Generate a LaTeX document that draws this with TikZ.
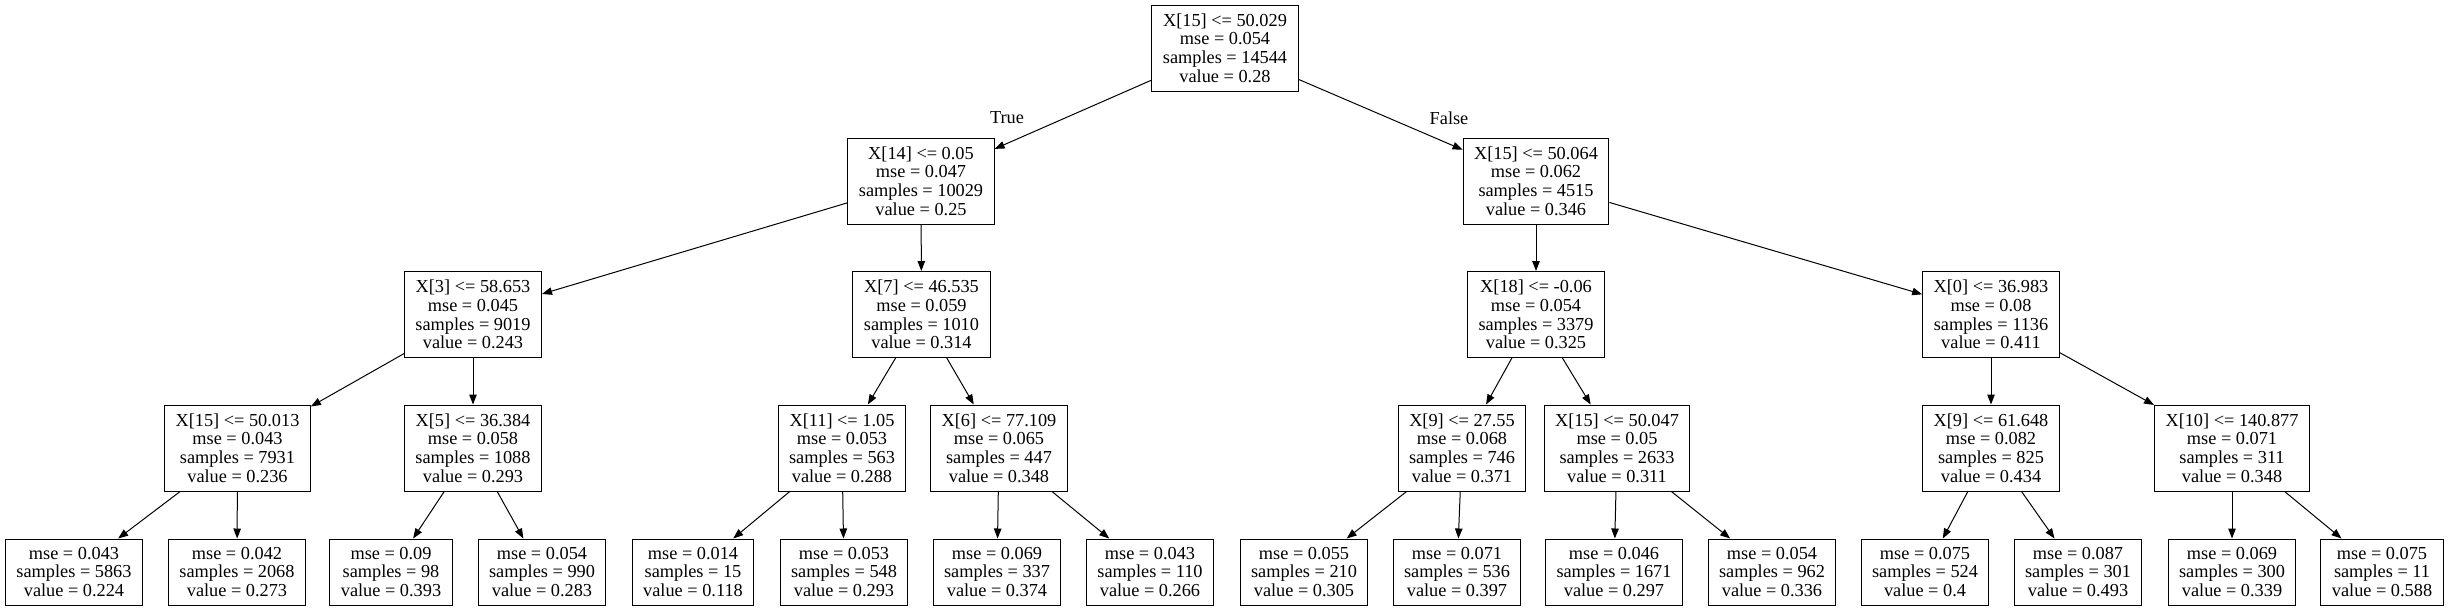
\documentclass[tikz,border=0pt]{standalone}
\usepackage{fontspec}
\setmainfont{Liberation Serif}
\usetikzlibrary{arrows.meta}

\begin{document}
\begin{tikzpicture}[
	x=1pt, y=-1pt,
  > = {Triangle[length=10pt,width=7.5pt]},
  every node/.style = {font=\fontsize{18.3}{18.7}\selectfont, align=center},
  split/.style = {draw, line width=1pt, inner xsep=11pt, minimum height=86pt},
  leaf/.style = {draw, line width=1pt, inner xsep=11pt, minimum height=66pt},
  edge/.style = {->, line width=1pt}
  ]
	\useasboundingbox (0,0) rectangle (2450,611);

	\node[split] (n0) at (1225,48) {X[15] <= 50.029\\mse = 0.054\\samples = 14544\\value = 0.28};

	\node[split] (n1) at (921,181) {X[14] <= 0.05\\mse = 0.047\\samples = 10029\\value = 0.25};
	\node[split] (n2) at (1536,181) {X[15] <= 50.064\\mse = 0.062\\samples = 4515\\value = 0.346};

	\node[split] (n3) at (473,314.5) {X[3] <= 58.653\\mse = 0.045\\samples = 9019\\value = 0.243};
	\node[split] (n4) at (921.5,314.5) {X[7] <= 46.535\\mse = 0.059\\samples = 1010\\value = 0.314};
	\node[split] (n5) at (1536,314.5) {X[18] <= -0.06\\mse = 0.054\\samples = 3379\\value = 0.325};
	\node[split] (n6) at (1991,314.5) {X[0] <= 36.983\\mse = 0.08\\samples = 1136\\value = 0.411};

	\node[split] (n7) at (237.5,448) {X[15] <= 50.013\\mse = 0.043\\samples = 7931\\value = 0.236};
	\node[split] (n8) at (473,448) {X[5] <= 36.384\\mse = 0.058\\samples = 1088\\value = 0.293};
	\node[split] (n9) at (842,448) {X[11] <= 1.05\\mse = 0.053\\samples = 563\\value = 0.288};
	\node[split] (n10) at (999,448) {X[6] <= 77.109\\mse = 0.065\\samples = 447\\value = 0.348};
	\node[split] (n11) at (1462,448) {X[9] <= 27.55\\mse = 0.068\\samples = 746\\value = 0.371};
	\node[split] (n12) at (1617,448) {X[15] <= 50.047\\mse = 0.05\\samples = 2633\\value = 0.311};
	\node[split] (n13) at (1991,448) {X[9] <= 61.648\\mse = 0.082\\samples = 825\\value = 0.434};
	\node[split] (n14) at (2232,448) {X[10] <= 140.877\\mse = 0.071\\samples = 311\\value = 0.348};

	\node[leaf] (l1) at (74,572) {mse = 0.043\\samples = 5863\\value = 0.224};
	\node[leaf] (l2) at (237,572) {mse = 0.042\\samples = 2068\\value = 0.273};
	\node[leaf] (l3) at (391,572) {mse = 0.09\\samples = 98\\value = 0.393};
	\node[leaf] (l4) at (542,572) {mse = 0.054\\samples = 990\\value = 0.283};
	\node[leaf] (l5) at (693,572) {mse = 0.014\\samples = 15\\value = 0.118};
	\node[leaf] (l6) at (844,572) {mse = 0.053\\samples = 548\\value = 0.293};
	\node[leaf] (l7) at (997,572) {mse = 0.069\\samples = 337\\value = 0.374};
	\node[leaf] (l8) at (1150,572) {mse = 0.043\\samples = 110\\value = 0.266};
	\node[leaf] (l9) at (1304,572) {mse = 0.055\\samples = 210\\value = 0.305};
	\node[leaf] (l10) at (1457,572) {mse = 0.071\\samples = 536\\value = 0.397};
	\node[leaf] (l11) at (1614,572) {mse = 0.046\\samples = 1671\\value = 0.297};
	\node[leaf] (l12) at (1772,572) {mse = 0.054\\samples = 962\\value = 0.336};
	\node[leaf] (l13) at (1925,572) {mse = 0.075\\samples = 524\\value = 0.4};
	\node[leaf] (l14) at (2078,572) {mse = 0.087\\samples = 301\\value = 0.493};
	\node[leaf] (l15) at (2232,572) {mse = 0.069\\samples = 300\\value = 0.339};
	\node[leaf] (l16) at (2382,572) {mse = 0.075\\samples = 11\\value = 0.588};

	\node (true) at (1007,118) {True};
	\node (false) at (1449,118) {False};

	\draw[edge] (n0) -- (n1);
	\draw[edge] (n0) -- (n2);
	\draw[edge] (n1) -- (n3);
	\draw[edge] (n1) -- (n4);
	\draw[edge] (n2) -- (n5);
	\draw[edge] (n2) -- (n6);
	\draw[edge] (n3) -- (n7);
	\draw[edge] (n3) -- (n8);
	\draw[edge] (n4) -- (n9);
	\draw[edge] (n4) -- (n10);
	\draw[edge] (n5) -- (n11);
	\draw[edge] (n5) -- (n12);
	\draw[edge] (n6) -- (n13);
	\draw[edge] (n6) -- (n14);
	\draw[edge] (n7) -- (l1);
	\draw[edge] (n7) -- (l2);
	\draw[edge] (n8) -- (l3);
	\draw[edge] (n8) -- (l4);
	\draw[edge] (n9) -- (l5);
	\draw[edge] (n9) -- (l6);
	\draw[edge] (n10) -- (l7);
	\draw[edge] (n10) -- (l8);
	\draw[edge] (n11) -- (l9);
	\draw[edge] (n11) -- (l10);
	\draw[edge] (n12) -- (l11);
	\draw[edge] (n12) -- (l12);
	\draw[edge] (n13) -- (l13);
	\draw[edge] (n13) -- (l14);
	\draw[edge] (n14) -- (l15);
	\draw[edge] (n14) -- (l16);

\end{tikzpicture}
\end{document}
